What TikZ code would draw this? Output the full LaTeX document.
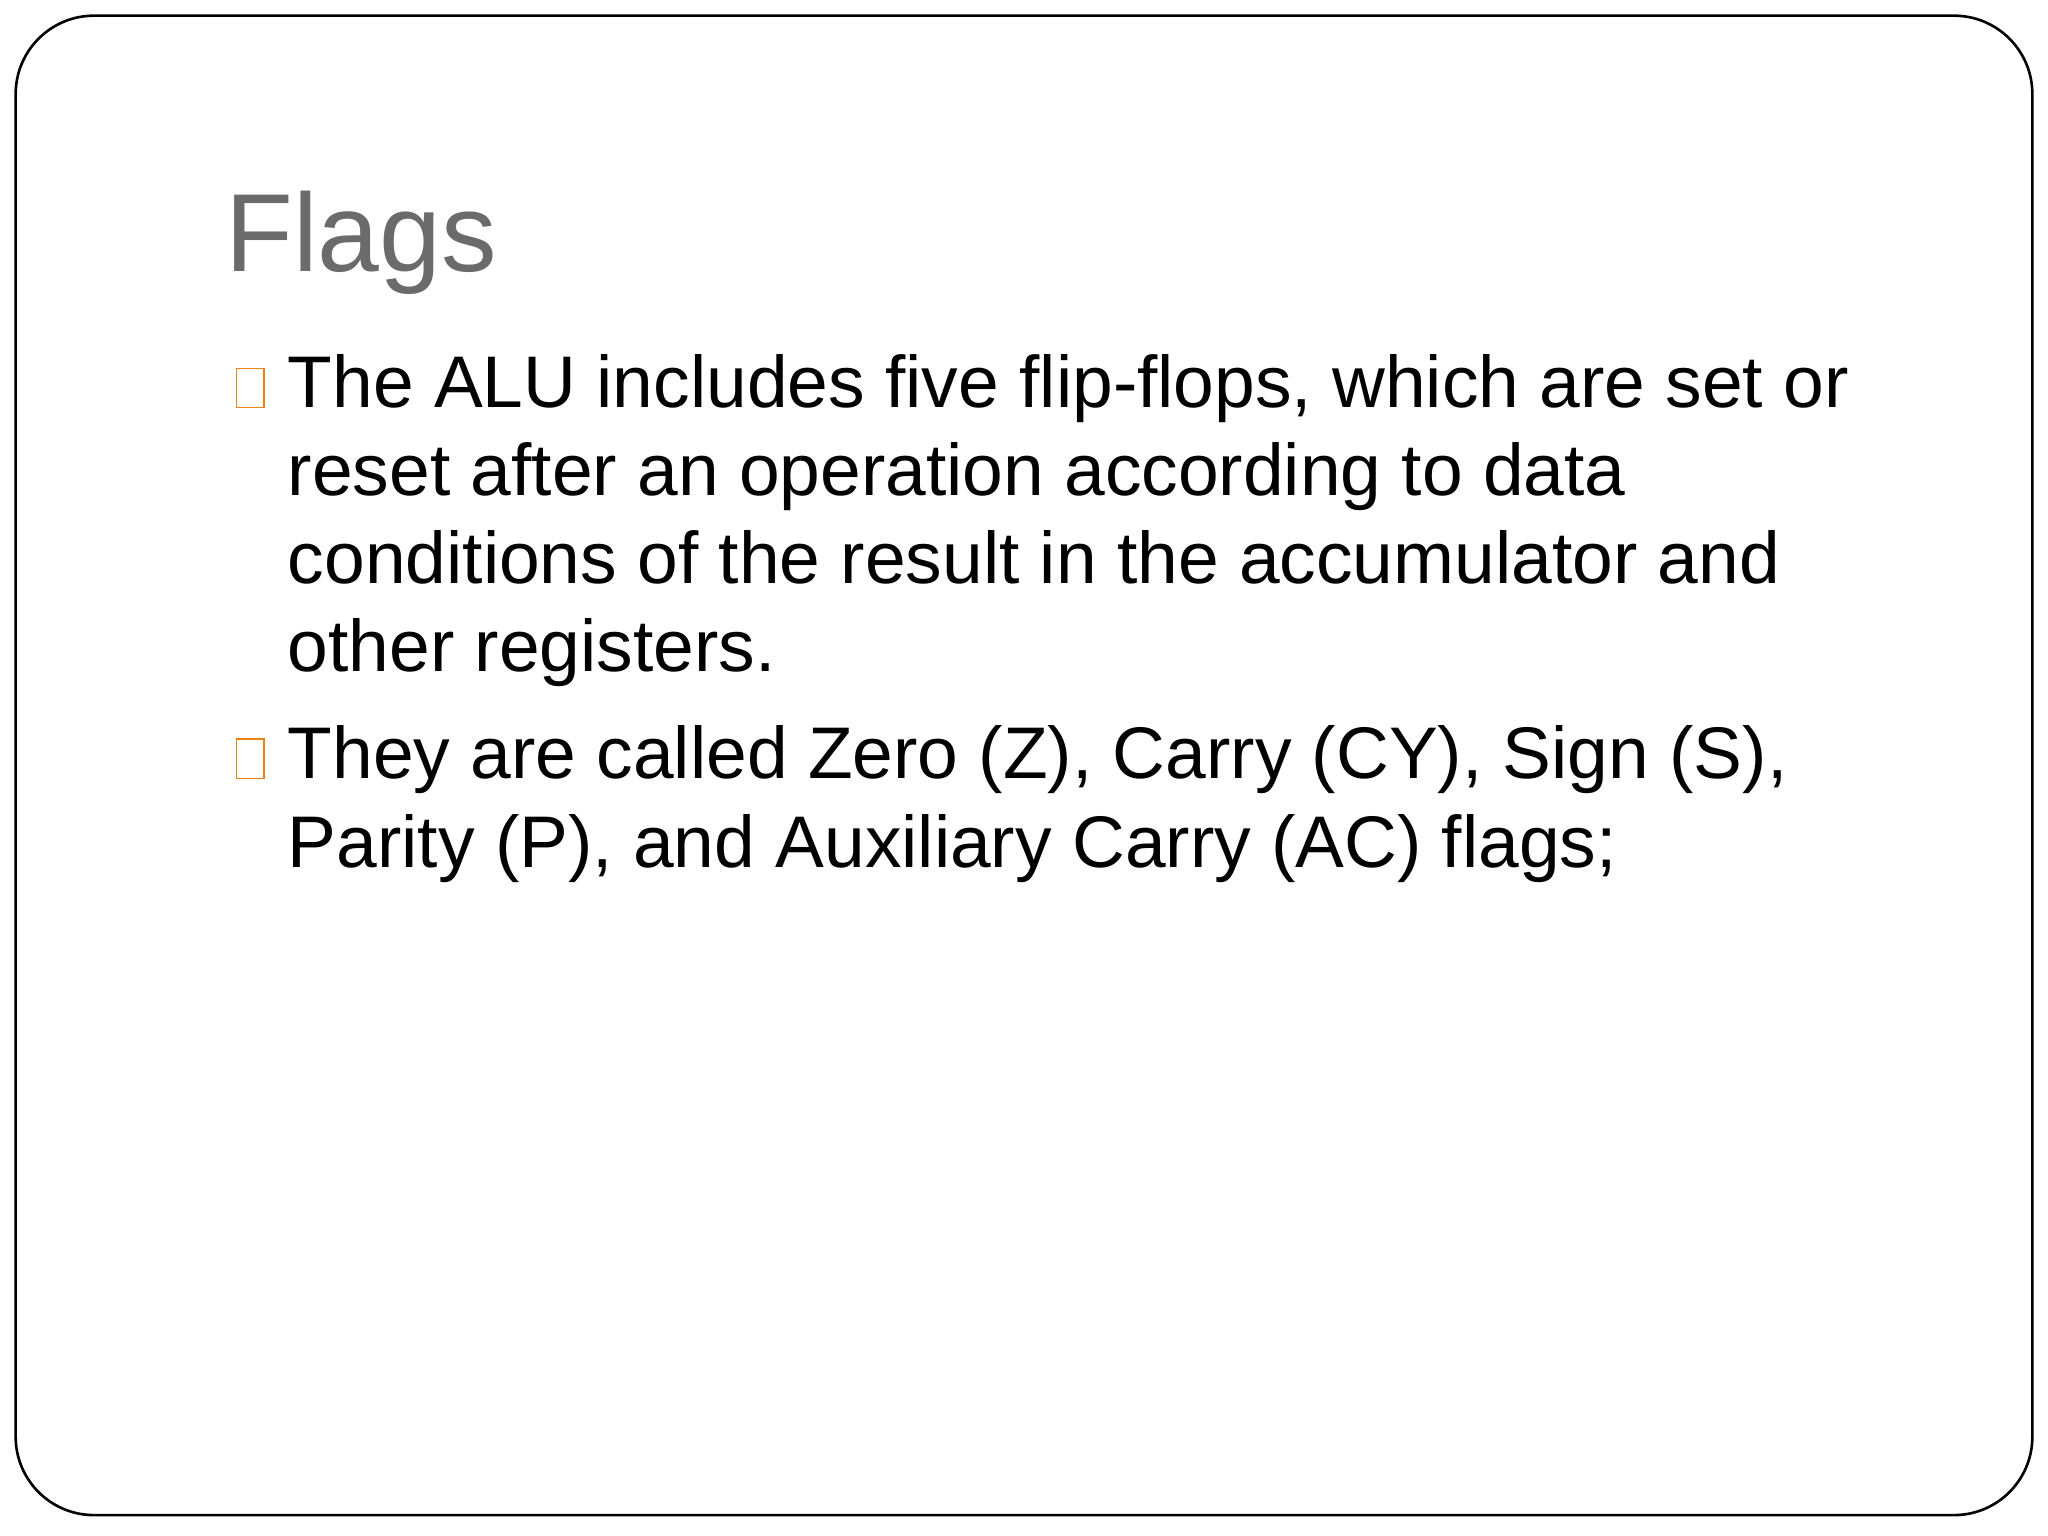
\documentclass[tikz,border=0pt]{standalone}
\usepackage{fontspec}
\setmainfont{Liberation Sans}
\begin{document}
\begin{tikzpicture}[x=0.5pt,y=-0.5pt,
  body/.style={anchor=base west,inner sep=0pt,font=\fontsize{28pt}{34pt}\selectfont},
  bul/.style={draw=orange!70!brown,line width=0.6pt}]
\useasboundingbox (0,0) rectangle (1568,1176);
\fill[white] (0,0) rectangle (1568,1176);
\draw[line width=1pt, rounded corners=30pt] (12,12) rectangle (1556,1160);
\node[anchor=base west,inner sep=0pt,text=black!58,font=\fontsize{42.5pt}{50pt}\selectfont] (t) at (172,208) {Flags};
\draw[bul] (181,282) rectangle (202,312);
\draw[bul] (181,566) rectangle (202,596);
\node[body] (l1) at (220,312) {The ALU includes five flip-flops, which are set or};
\node[body] (l2) at (220,379) {reset after an operation according to data};
\node[body] (l3) at (220,447) {conditions of the result in the accumulator and};
\node[body] (l4) at (220,514) {other registers.};
\node[body] (l5) at (220,596) {They are called Zero (Z), Carry (CY), Sign (S),};
\node[body] (l6) at (220,664) {Parity (P), and Auxiliary Carry (AC) flags;};
\end{tikzpicture}
\end{document}
